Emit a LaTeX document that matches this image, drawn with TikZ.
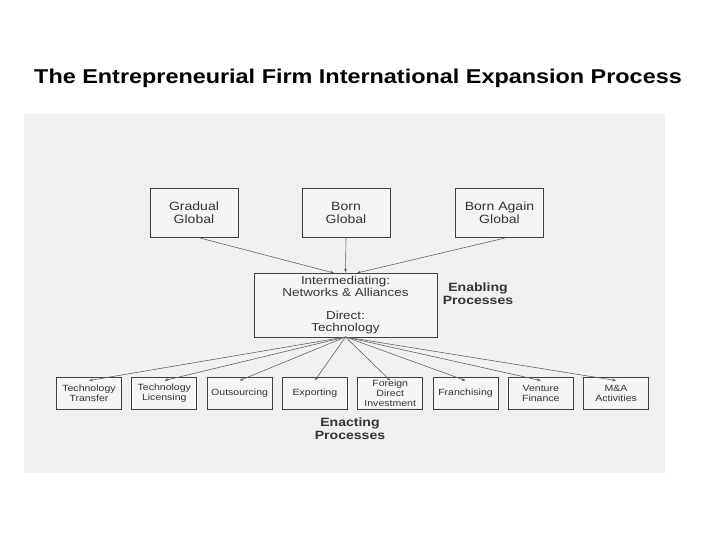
\documentclass[tikz,border=0pt]{standalone}
\usepackage{fontspec}
\setmainfont[FakeStretch=1.17]{Liberation Sans}
\usetikzlibrary{arrows.meta}
\begin{document}
\begin{tikzpicture}[x=1pt,y=-1pt,
  box/.style={draw=black!75,line width=0.9pt,fill=black!4,align=center,text=black!80,inner sep=0pt},
  topbox/.style={box,minimum width=88pt,minimum height=49pt,font=\fontsize{12}{13}\selectfont},
  botbox/.style={box,minimum width=65pt,minimum height=32pt,font=\fontsize{9}{10}\selectfont},
  arr/.style={draw=black!60,line width=0.6pt,-{Stealth[length=4pt,width=3pt]}},
  lbl/.style={font=\fontsize{12}{13}\selectfont\bfseries,text=black!80,align=center}]
\useasboundingbox (0,0) rectangle (720,540);
\fill[white] (0,0) rectangle (720,540);
\node[font=\fontsize{20}{22}\selectfont\bfseries] (title) at (358,78) {The Entrepreneurial Firm International Expansion Process};
\fill[black!6] (24,114) rectangle (665,473);
\node[topbox] (gg) at (194,212.5) {Gradual\\Global};
\node[topbox] (bg) at (346,212.5) {Born\\Global};
\node[topbox] (ba) at (499.5,212.5) {Born Again\\Global};
\node[box,minimum width=183pt,minimum height=64pt,font=\fontsize{11.5}{12.5}\selectfont] (mid) at (345.5,305) {Intermediating:\\Networks \& Alliances\\[10pt]Direct:\\Technology};
\node[lbl] (en) at (478,294) {Enabling\\Processes};
\foreach \n/\t [count=\i from 0] in {tt/{Technology\\Transfer},tl/{Technology\\Licensing},os/{Outsourcing},ex/{Exporting},fd/{Foreign\\Direct\\Investment},fr/{Franchising},vf/{Venture\\Finance},ma/{M\&A\\Activities}}
  \node[botbox] (\n) at ({89+75.3*\i},393) {\t};
\node[lbl] (ep) at (350,429) {Enacting\\Processes};
\coordinate (gga) at (200,238);
\coordinate (baa) at (505,238);
\coordinate (m1) at (334,273);
\coordinate (m3) at (357,273);
\draw[arr] (gga) -- (m1);
\draw[arr] (bg.south) -- (mid.north);
\draw[arr] (baa) -- (m3);
\coordinate (mb) at (345.5,337);
\foreach \n in {tt,tl,os,ex,fd,fr,vf,ma}
  \draw[arr] (mb) -- ([yshift=-4pt]\n.north);
\end{tikzpicture}
\end{document}
